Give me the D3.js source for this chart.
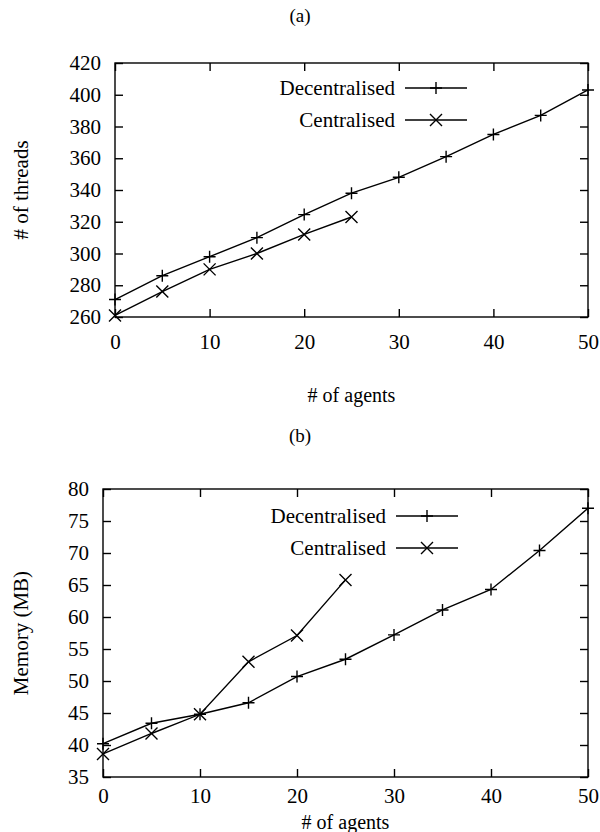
<!DOCTYPE html>
<html>
<head>
<meta charset="utf-8">
<script src="https://cdn.jsdelivr.net/npm/d3@7"></script>
<style>
  body { margin: 0; background: #fff; }
  svg text { font-family: "Liberation Serif", "DejaVu Serif", serif; fill: #000; }
</style>
</head>
<body>
<div id="chart"></div>
<script>
// data
const agents = [0, 5, 10, 15, 20, 25, 30, 35, 40, 45, 50];
const agentsCentral = [0, 5, 10, 15, 20, 25];

const threadsDecentral = [271, 286, 298, 310, 324.5, 338, 348, 361, 375, 387, 403];
const threadsCentral = [261, 276, 290, 300, 312, 323];

const memDecentral = [40.2, 43.4, 44.8, 46.6, 50.7, 53.4, 57.2, 61.1, 64.3, 70.4, 77.0];
const memCentral = [38.6, 41.8, 44.8, 53.0, 57.1, 65.8];

const xTicks = [0, 10, 20, 30, 40, 50];
const threadTicks = [260, 280, 300, 320, 340, 360, 380, 400, 420];
const memTicks = [35, 40, 45, 50, 55, 60, 65, 70, 75, 80];

const seriesNames = ['Decentralised', 'Centralised'];

const svg = d3.select('#chart').append('svg')
  .attr('width', 600)
  .attr('height', 832);

function drawMarker(g, type, x, y) {
  const s = 6;
  if (type === 'plus') {
    g.append('path')
      .attr('d', `M${x - s},${y}H${x + s}M${x},${y - s}V${y + s}`)
      .attr('stroke', '#000').attr('stroke-width', 1.4).attr('fill', 'none');
  } else {
    g.append('path')
      .attr('d', `M${x - s},${y - s}L${x + s},${y + s}M${x - s},${y + s}L${x + s},${y - s}`)
      .attr('stroke', '#000').attr('stroke-width', 1.4).attr('fill', 'none');
  }
}

function panel(opts) {
  const { left, right, top, bottom, yDomain, yTicks, yLabel, title, titleY,
          xLabelY, xPad, dec, cen, legendX, legendY } = opts;

  const x = d3.scaleLinear().domain([0, 50]).range([left, right]);
  const y = d3.scaleLinear().domain(yDomain).range([bottom, top]);
  const g = svg.append('g');
  const tickLen = 8;

  g.append('text')
    .attr('x', 300).attr('y', titleY)
    .attr('text-anchor', 'middle')
    .style('font-size', '19px')
    .text(title);

  // frame
  g.append('rect')
    .attr('x', left).attr('y', top)
    .attr('width', right - left).attr('height', bottom - top)
    .attr('fill', 'none').attr('stroke', '#000').attr('stroke-width', 1.4);

  // axes: ticks inside, mirrored
  const axB = g.append('g').attr('transform', `translate(0,${bottom})`)
    .call(d3.axisBottom(x).tickValues(xTicks).tickSizeInner(-tickLen).tickSizeOuter(0).tickPadding(xPad));
  const axT = g.append('g').attr('transform', `translate(0,${top})`)
    .call(d3.axisTop(x).tickValues(xTicks).tickSizeInner(-tickLen).tickSizeOuter(0).tickFormat(''));
  const axL = g.append('g').attr('transform', `translate(${left},0)`)
    .call(d3.axisLeft(y).tickValues(yTicks).tickSizeInner(-tickLen).tickSizeOuter(0).tickPadding(14));
  const axR = g.append('g').attr('transform', `translate(${right},0)`)
    .call(d3.axisRight(y).tickValues(yTicks).tickSizeInner(-tickLen).tickSizeOuter(0).tickFormat(''));

  [axB, axT, axL, axR].forEach(a => {
    a.select('.domain').remove();
    a.selectAll('.tick line').attr('stroke', '#000').attr('stroke-width', 1.4);
    a.selectAll('text')
      .style('font-family', '"Liberation Serif", serif')
      .style('font-size', '21px')
      .attr('fill', '#000');
  });

  g.append('text')
    .attr('x', (left + right) / 2).attr('y', xLabelY)
    .attr('text-anchor', 'middle')
    .style('font-size', '20px')
    .text('# of agents');

  g.append('text')
    .attr('transform', `translate(28,${(top + bottom) / 2}) rotate(-90)`)
    .attr('text-anchor', 'middle')
    .style('font-size', '21px')
    .text(yLabel);

  const line = d3.line().x(d => x(d[0])).y(d => y(d[1]));
  const decPts = agents.map((a, i) => [a, dec[i]]);
  const cenPts = agentsCentral.map((a, i) => [a, cen[i]]);

  g.append('path').datum(decPts).attr('d', line)
    .attr('fill', 'none').attr('stroke', '#000').attr('stroke-width', 1.4);
  g.append('path').datum(cenPts).attr('d', line)
    .attr('fill', 'none').attr('stroke', '#000').attr('stroke-width', 1.4);

  decPts.forEach(p => drawMarker(g, 'plus', x(p[0]), y(p[1])));
  cenPts.forEach(p => drawMarker(g, 'cross', x(p[0]), y(p[1])));

  // legend
  seriesNames.forEach((name, i) => {
    const ly = legendY + i * 32;
    g.append('text')
      .attr('x', legendX).attr('y', ly)
      .attr('dy', '0.35em')
      .attr('text-anchor', 'end')
      .style('font-size', '21px')
      .text(name);
    g.append('line')
      .attr('x1', legendX + 10).attr('x2', legendX + 72)
      .attr('y1', ly).attr('y2', ly)
      .attr('stroke', '#000').attr('stroke-width', 1.4);
    drawMarker(g, i === 0 ? 'plus' : 'cross', legendX + 41, ly);
  });
}

panel({
  left: 115, right: 588, top: 63, bottom: 317,
  yDomain: [260, 420], yTicks: threadTicks,
  yLabel: '# of threads', title: '(a)', titleY: 22, xLabelY: 402, xPad: 17,
  dec: threadsDecentral, cen: threadsCentral,
  legendX: 395, legendY: 88
});

panel({
  left: 103, right: 588, top: 489, bottom: 777,
  yDomain: [35, 80], yTicks: memTicks,
  yLabel: 'Memory (MB)', title: '(b)', titleY: 442, xLabelY: 829, xPad: 11,
  dec: memDecentral, cen: memCentral,
  legendX: 386, legendY: 516
});
</script>
</body>
</html>
